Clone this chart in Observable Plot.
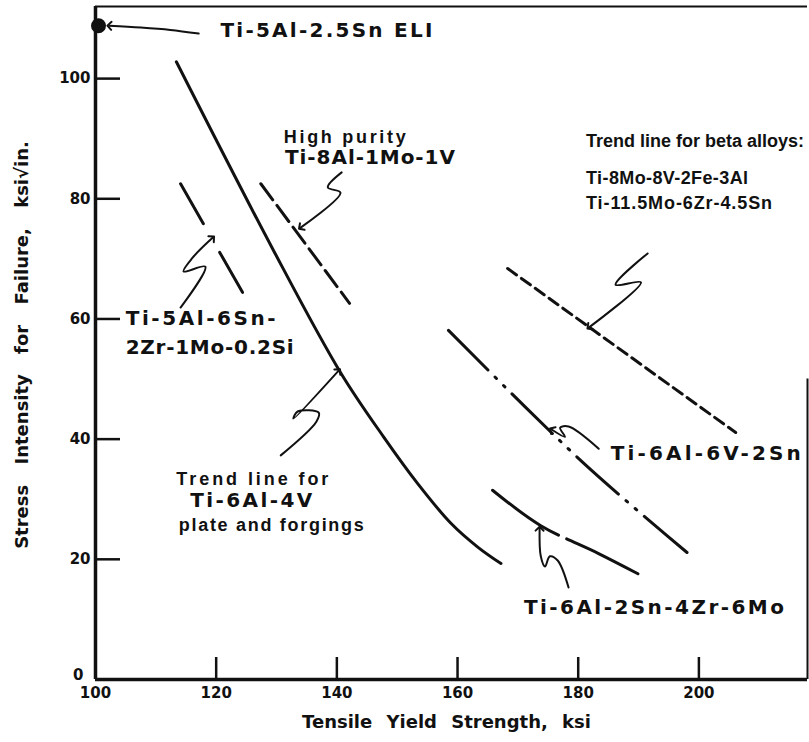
<!DOCTYPE html>
<html>
<head>
<meta charset="utf-8">
<script src="https://cdn.jsdelivr.net/npm/d3@7"></script>
<script src="https://cdn.jsdelivr.net/npm/@observablehq/plot@0.6"></script>
<style>
  body { margin: 0; background: #fff; }
  #chart svg { display: block; }
</style>
</head>
<body>
<div id="chart"></div>
<script>
// ---------- axis ticks ----------
const xTickLabels = [100, 120, 140, 160, 180, 200];
const xTickMarks = [120, 140, 160, 180, 200];
const yTickLabels = [20, 40, 60, 80, 100];
const yOriginLabel = [0];
const yTickMarks = [20, 40, 60, 80, 100];
const xDomain = [100, 218];
const yDomain = [0, 112];
const rightBorderTop = 50;

const xTitle = "Tensile Yield Strength, ksi";
const yTitle = "Stress Intensity for Failure, ksi√in.";

// ---------- trend lines (x: yield strength, ksi; y: K, ksi√in.) ----------
const ti64X = [113.4, 129.5, 140.6, 147.8, 153.4, 158.9, 163.4, 167.2];
const ti64Y = [102.8, 71.4, 51.1, 40.3, 32.6, 26.0, 22.0, 19.3];
const ti5Al6SnX = [114.1, 125.4];
const ti5Al6SnY = [82.5, 62.6];
const ti8AlX = [127.4, 142.1];
const ti8AlY = [82.5, 62.6];
const betaX = [168.3, 206.1];
const betaY = [68.4, 41.1];
const ti662X = [158.5, 180.8, 198.2];
const ti662Y = [58.1, 36.1, 21.0];
const ti6246X = [165.8, 173.8, 183.3, 189.9];
const ti6246Y = [31.5, 25.6, 21.0, 17.6];
const eliX = [100.5];
const eliY = [108.8];

// ---------- labels ----------
const wideLabelText = ["Ti-5Al-2.5Sn ELI", "Ti-8Al-1Mo-1V", "Ti-5Al-6Sn-", "2Zr-1Mo-0.2Si", "Ti-6Al-4V", "Ti-6Al-6V-2Sn", "Ti-6Al-2Sn-4Zr-6Mo"];
const wideLabelX = [120.7, 131.4, 105.0, 105.0, 115.7, 185.4, 171.0];
const wideLabelY = [108.0, 86.9, 60.1, 55.2, 29.8, 37.6, 12.0];
const plainLabelText = ["High purity", "Trend line for beta alloys:", "Ti-8Mo-8V-2Fe-3Al", "Ti-11.5Mo-6Zr-4.5Sn", "Trend line for", "plate and forgings"];
const plainLabelX = [131.2, 181.3, 181.3, 181.3, 113.4, 113.8];
const plainLabelY = [90.3, 89.6, 83.5, 79.2, 33.4, 25.6];

// rendered text widths in pixels (layout)
const wideLabelWidth = [212, 170, 150, 168, 122, 190, 260];
const plainLabelWidth = [122, 218, 162, 186, 152, 185];

// ---------- leader lines (annotation pointers) ----------
const leaderELI = [[117.1, 107.5], [112.4, 108.1], [107.5, 108.5], [102.3, 108.8]];
const leader8Al = [[140.8, 84.4], [138.5, 81.9], [140.6, 81.0], [134.0, 75.2]];
const leaderBeta = [[191.5, 70.9], [186.2, 65.7], [190.4, 66.1], [181.8, 58.6]];
const leader5Al6Sn = [[114.1, 61.9], [118.2, 68.7], [114.6, 67.9], [116.1, 70.2], [119.4, 73.5]];
const leader64 = [[130.7, 37.3], [136.6, 42.9], [137.0, 44.4], [133.5, 44.6], [132.8, 43.4], [140.3, 51.4]];
const leader662 = [[183.4, 38.4], [178.4, 42.1], [177.0, 41.9], [177.8, 40.4], [175.6, 41.6]];
const leader6246 = [[178.4, 15.3], [176.6, 19.8], [175.3, 20.5], [174.5, 18.8], [173.8, 20.5], [173.6, 25.1]];

// ---------- build tables ----------
const pts = (xs, ys) => xs.map((x, i) => ({x, y: ys[i]}));
const labels = (t, xs, ys) => t.map((text, i) => ({text, x: xs[i], y: ys[i]}));
const leaders = [leaderELI, leader8Al, leaderBeta, leader5Al6Sn, leader64, leader662, leader6246]
  .flatMap((p, id) => p.map(([x, y]) => ({id, x, y})));

const ink = "#111";
const chart = Plot.plot({
  width: 809,
  height: 742,
  marginLeft: 95,
  marginRight: 2,
  marginTop: 6,
  marginBottom: 63,
  x: {domain: xDomain},
  y: {domain: yDomain},
  style: {fontFamily: "'DejaVu Sans', sans-serif", fontWeight: "bold", color: ink, background: "white", overflow: "visible"},
  marks: [
    // frame / axes lines
    Plot.ruleY([yDomain[0]], {stroke: ink, strokeWidth: 3.5}),
    Plot.ruleX([xDomain[0]], {stroke: ink, strokeWidth: 3.5}),
    Plot.ruleY([yDomain[1]], {stroke: ink, strokeWidth: 2}),
    Plot.ruleX([xDomain[1]], {y1: yDomain[0], y2: rightBorderTop, stroke: ink, strokeWidth: 2}),
    // ticks (inward) and labels
    Plot.axisX(xTickMarks, {tickSize: -22, tickFormat: () => "", strokeWidth: 2.5, stroke: ink, label: null}),
    Plot.axisY(yTickMarks, {tickSize: -25, tickFormat: () => "", strokeWidth: 2.5, stroke: ink, label: null}),
    Plot.axisX(xTickLabels, {tickSize: 0, tickPadding: 8, fontSize: 15, label: null}),
    Plot.axisY(yTickLabels, {tickSize: 0, tickPadding: 5, fontSize: 15, label: null}),
    Plot.axisY(yOriginLabel, {tickSize: 0, tickPadding: 12, dy: -4, fontSize: 15, label: null}),
    // axis titles
    Plot.text([xTitle], {text: d => d, frameAnchor: "bottom", dy: 48, dx: -5, fontSize: 18, fill: ink, ariaDescription: "titlex"}),
    Plot.text([yTitle], {text: d => d, frameAnchor: "left", textAnchor: "middle", rotate: -90, dx: -73, dy: 2, fontSize: 18, fill: ink, ariaDescription: "titley"}),
    // trend lines
    Plot.line(pts(ti64X, ti64Y), {x: "x", y: "y", curve: "catmull-rom", stroke: ink, strokeWidth: 3}),
    Plot.line(pts(ti5Al6SnX, ti5Al6SnY), {x: "x", y: "y", stroke: ink, strokeWidth: 3, strokeDasharray: "46,33"}),
    Plot.line(pts(ti8AlX, ti8AlY), {x: "x", y: "y", stroke: ink, strokeWidth: 3, strokeDasharray: "20,7"}),
    Plot.line(pts(betaX, betaY), {x: "x", y: "y", stroke: ink, strokeWidth: 3, strokeDasharray: "11,6"}),
    Plot.line(pts(ti662X, ti662Y), {x: "x", y: "y", curve: "catmull-rom", stroke: ink, strokeWidth: 3, strokeLinecap: "round", strokeDasharray: "56,10,2,10,2,10"}),
    Plot.line(pts(ti6246X, ti6246Y), {x: "x", y: "y", curve: "catmull-rom", stroke: ink, strokeWidth: 3, strokeDasharray: "80,9,400"}),
    Plot.dot(pts(eliX, eliY), {x: "x", y: "y", r: 7.5, fill: ink}),
    // leaders
    Plot.line(leaders, {x: "x", y: "y", z: "id", curve: "catmull-rom", stroke: ink, strokeWidth: 2, markerEnd: "arrow"}),
    // labels
    Plot.text(labels(wideLabelText, wideLabelX, wideLabelY), {x: "x", y: "y", text: "text", textAnchor: "start", fontSize: 20, fill: ink, ariaDescription: "wide"}),
    Plot.text(labels(plainLabelText, plainLabelX, plainLabelY), {x: "x", y: "y", text: "text", textAnchor: "start", fontSize: 18, fontFamily: "'Liberation Sans', Arial, sans-serif", fill: ink, ariaDescription: "plain"})
  ]
});

const svg = d3.select(chart);
svg.selectAll('g[aria-description="wide"] text')
  .attr("textLength", (d, i) => wideLabelWidth[i]).attr("lengthAdjust", "spacing");
svg.selectAll('g[aria-description="plain"] text')
  .attr("textLength", (d, i) => plainLabelWidth[i]).attr("lengthAdjust", "spacing");
svg.selectAll('g[aria-description="titlex"]').style("word-spacing", "8px");
svg.selectAll('g[aria-description="titley"]').style("word-spacing", "14px");
document.getElementById("chart").appendChild(chart);
</script>
</body>
</html>
